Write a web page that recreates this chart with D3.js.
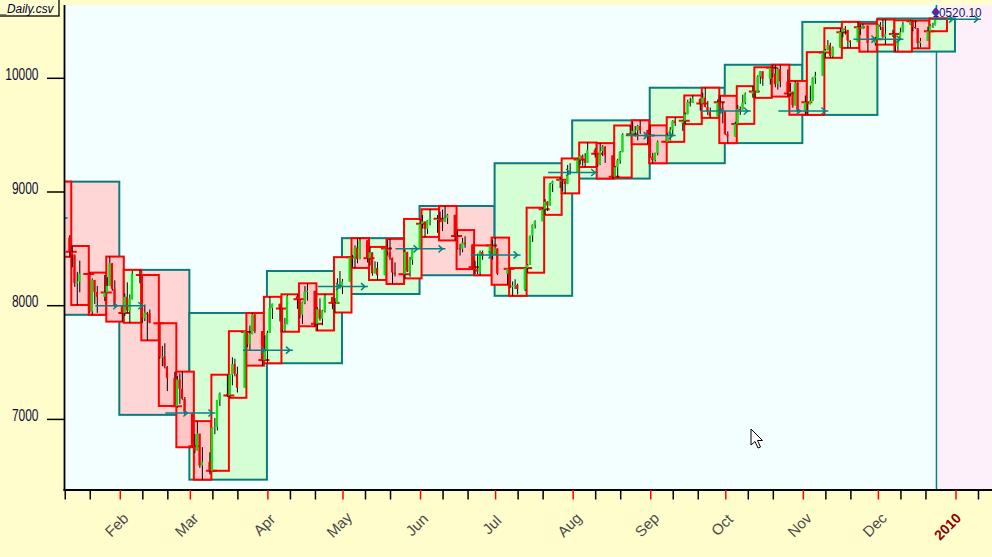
<!DOCTYPE html>
<html><head><meta charset="utf-8">
<script src="https://cdn.jsdelivr.net/npm/d3@7"></script>
<style>html,body{margin:0;padding:0;background:#fffdcc;overflow:hidden}</style>
</head><body><script>
// DJIA daily bars, 2009
const dates = [
"2009-01-02","2009-01-05","2009-01-06","2009-01-07","2009-01-08","2009-01-09","2009-01-12","2009-01-13","2009-01-14","2009-01-15","2009-01-16","2009-01-20","2009-01-21","2009-01-22","2009-01-23","2009-01-26","2009-01-27","2009-01-28","2009-01-29","2009-01-30",
"2009-02-02","2009-02-03","2009-02-04","2009-02-05","2009-02-06","2009-02-09","2009-02-10","2009-02-11","2009-02-12","2009-02-13","2009-02-17","2009-02-18","2009-02-19","2009-02-20","2009-02-23","2009-02-24","2009-02-25","2009-02-26","2009-02-27",
"2009-03-02","2009-03-03","2009-03-04","2009-03-05","2009-03-06","2009-03-09","2009-03-10","2009-03-11","2009-03-12","2009-03-13","2009-03-16","2009-03-17","2009-03-18","2009-03-19","2009-03-20","2009-03-23","2009-03-24","2009-03-25","2009-03-26","2009-03-27","2009-03-30","2009-03-31",
"2009-04-01","2009-04-02","2009-04-03","2009-04-06","2009-04-07","2009-04-08","2009-04-09","2009-04-13","2009-04-14","2009-04-15","2009-04-16","2009-04-17","2009-04-20","2009-04-21","2009-04-22","2009-04-23","2009-04-24","2009-04-27","2009-04-28","2009-04-29","2009-04-30",
"2009-05-01","2009-05-04","2009-05-05","2009-05-06","2009-05-07","2009-05-08","2009-05-11","2009-05-12","2009-05-13","2009-05-14","2009-05-15","2009-05-18","2009-05-19","2009-05-20","2009-05-21","2009-05-22","2009-05-26","2009-05-27","2009-05-28","2009-05-29",
"2009-06-01","2009-06-02","2009-06-03","2009-06-04","2009-06-05","2009-06-08","2009-06-09","2009-06-10","2009-06-11","2009-06-12","2009-06-15","2009-06-16","2009-06-17","2009-06-18","2009-06-19","2009-06-22","2009-06-23","2009-06-24","2009-06-25","2009-06-26","2009-06-29","2009-06-30",
"2009-07-01","2009-07-02","2009-07-06","2009-07-07","2009-07-08","2009-07-09","2009-07-10","2009-07-13","2009-07-14","2009-07-15","2009-07-16","2009-07-17","2009-07-20","2009-07-21","2009-07-22","2009-07-23","2009-07-24","2009-07-27","2009-07-28","2009-07-29","2009-07-30","2009-07-31",
"2009-08-03","2009-08-04","2009-08-05","2009-08-06","2009-08-07","2009-08-10","2009-08-11","2009-08-12","2009-08-13","2009-08-14","2009-08-17","2009-08-18","2009-08-19","2009-08-20","2009-08-21","2009-08-24","2009-08-25","2009-08-26","2009-08-27","2009-08-28","2009-08-31",
"2009-09-01","2009-09-02","2009-09-03","2009-09-04","2009-09-08","2009-09-09","2009-09-10","2009-09-11","2009-09-14","2009-09-15","2009-09-16","2009-09-17","2009-09-18","2009-09-21","2009-09-22","2009-09-23","2009-09-24","2009-09-25","2009-09-28","2009-09-29","2009-09-30",
"2009-10-01","2009-10-02","2009-10-05","2009-10-06","2009-10-07","2009-10-08","2009-10-09","2009-10-12","2009-10-13","2009-10-14","2009-10-15","2009-10-16","2009-10-19","2009-10-20","2009-10-21","2009-10-22","2009-10-23","2009-10-26","2009-10-27","2009-10-28","2009-10-29","2009-10-30",
"2009-11-02","2009-11-03","2009-11-04","2009-11-05","2009-11-06","2009-11-09","2009-11-10","2009-11-11","2009-11-12","2009-11-13","2009-11-16","2009-11-17","2009-11-18","2009-11-19","2009-11-20","2009-11-23","2009-11-24","2009-11-25","2009-11-27","2009-11-30",
"2009-12-01","2009-12-02","2009-12-03","2009-12-04","2009-12-07","2009-12-08","2009-12-09","2009-12-10","2009-12-11","2009-12-14","2009-12-15","2009-12-16","2009-12-17","2009-12-18","2009-12-21","2009-12-22","2009-12-23","2009-12-24"];
const opens = [
8772,9027,8954,9015,8769,8738,8599,8474,8448,8199,8212,8279,7949,8226,8120,8078,8116,8175,8373,8149,
8000,7936,8078,7954,8056,8281,8269,7887,7935,7932,7845,7555,7555,7461,7365,7115,7350,7269,7180,
7056,6764,6726,6874,6595,6625,6548,6923,6932,7170,7224,7210,7393,7487,7400,7279,7769,7659,7750,7924,7776,7522,
7609,7761,7978,8016,7975,7789,7837,8083,8057,7920,8029,8125,8131,7841,7969,7886,7957,8076,8025,8017,8185,
8168,8212,8426,8410,8512,8409,8574,8418,8469,8284,8331,8268,8504,8474,8422,8292,8277,8473,8300,8403,
8500,8721,8740,8675,8750,8763,8764,8763,8739,8770,8799,8612,8504,8497,8555,8539,8339,8323,8299,8472,8438,8529,
8447,8504,8280,8324,8163,8178,8183,8146,8331,8359,8616,8711,8743,8848,8915,8881,9069,9093,9108,9096,9070,9154,
9171,9286,9320,9280,9256,9370,9337,9241,9361,9398,9321,9135,9217,9279,9350,9505,9509,9539,9543,9580,9544,
9496,9310,9280,9344,9441,9497,9547,9627,9605,9626,9683,9791,9783,9820,9778,9829,9748,9707,9665,9789,9742,
9712,9509,9487,9599,9731,9725,9786,9864,9885,9871,10015,10062,9995,10092,10041,9949,10081,9972,9867,9882,9762,9962,
9712,9789,9771,9802,10005,10023,10226,10246,10291,10197,10270,10406,10437,10426,10332,10318,10450,10433,10464,10309,
10344,10471,10452,10366,10388,10390,10285,10337,10405,10471,10501,10452,10441,10308,10328,10414,10464,10466];
const highs = [
9065,9088,9091,9016,8770,8755,8620,8525,8449,8298,8396,8291,8240,8227,8174,8270,8250,8432,8374,8223,
8004,8108,8205,8100,8307,8315,8270,8010,7945,7966,7846,7646,7670,7469,7418,7382,7405,7420,7197,
7057,6872,6985,6875,6756,6710,6926,7012,7171,7236,7393,7396,7546,7534,7464,7776,7776,7825,7936,7925,7777,7740,
7780,8078,8018,8018,7976,7893,8093,8100,8058,8035,8174,8197,8132,7985,8065,7963,8101,8077,8068,8241,8305,
8235,8427,8445,8530,8590,8594,8575,8517,8470,8390,8385,8504,8579,8588,8423,8381,8495,8474,8430,8509,
8763,8797,8741,8752,8848,8797,8827,8845,8877,8808,8800,8665,8545,8596,8611,8540,8396,8457,8485,8485,8530,8581,
8599,8504,8325,8328,8213,8232,8194,8331,8365,8616,8715,8751,8862,8937,8919,9080,9100,9128,9109,9097,9238,9253,
9295,9321,9330,9342,9435,9385,9338,9430,9412,9403,9322,9228,9292,9360,9517,9585,9620,9580,9590,9630,9545,
9586,9345,9345,9453,9516,9571,9633,9658,9634,9699,9812,9829,9849,9821,9874,9917,9800,9743,9815,9846,9791,
9712,9533,9618,9766,9752,9855,9875,9931,9885,10027,10064,10063,10097,10119,10119,10094,10115,10079,9959,9882,9977,9968,
9849,9789,9935,10009,10057,10230,10258,10336,10312,10280,10441,10438,10460,10426,10333,10496,10474,10480,10465,10364,
10481,10495,10517,10516,10427,10390,10342,10445,10498,10510,10508,10508,10441,10355,10454,10473,10488,10526];
const lows = [
8760,8892,8940,8719,8651,8574,8430,8337,8165,8006,8118,7939,7920,8015,7937,8040,8112,8174,8132,7988,
7860,7909,7937,7850,8055,8198,7847,7865,7695,7845,7534,7468,7448,7249,7118,7104,7137,7173,7040,
6755,6702,6726,6574,6470,6517,6548,6870,6903,7118,7199,7190,7300,7378,7236,7279,7635,7608,7749,7758,7473,7522,
7494,7761,7883,7862,7771,7776,7837,7972,7890,7840,8013,8044,7819,7782,7868,7828,7940,7970,7940,8017,8150,
8103,8212,8338,8332,8373,8409,8380,8353,8263,8284,8226,8268,8443,8401,8191,8257,8240,8296,8254,8360,
8500,8680,8605,8630,8707,8641,8735,8656,8737,8719,8574,8496,8441,8470,8510,8322,8278,8277,8268,8404,8425,8406,
8447,8269,8184,8154,8087,8147,8100,8129,8290,8359,8561,8679,8743,8799,8833,8880,8999,9035,9004,8988,9070,9154,
9171,9240,9230,9220,9256,9304,9221,9236,9316,9256,9118,9135,9127,9248,9350,9496,9508,9487,9454,9511,9420,
9302,9253,9267,9323,9441,9456,9502,9580,9538,9597,9683,9752,9783,9716,9778,9745,9676,9652,9665,9709,9603,
9503,9430,9487,9599,9678,9725,9772,9830,9828,9871,9951,9934,9945,10009,9921,9901,9921,9839,9840,9742,9762,9698,
9679,9678,9771,9802,9951,10023,10180,10246,10180,10181,10270,10361,10384,10267,10273,10318,10383,10433,10234,10287,
10344,10425,10353,10296,10364,10235,10243,10337,10405,10471,10412,10436,10263,10271,10328,10414,10443,10466];
const closes = [
9034.69,8952.89,9015.10,8769.70,8742.46,8599.18,8473.97,8448.56,8200.14,8212.49,8281.22,7949.09,8228.10,8122.80,8077.56,8116.03,8174.73,8375.45,8149.01,8000.86,
7936.83,8078.36,7956.66,8063.07,8280.59,8270.87,7888.88,7939.53,7932.76,7850.41,7552.60,7555.63,7465.95,7365.67,7114.78,7350.94,7270.89,7182.08,7062.93,
6763.29,6726.02,6875.84,6594.44,6626.94,6547.05,6926.49,6930.40,7170.06,7223.98,7216.97,7395.70,7486.58,7400.80,7278.38,7775.86,7660.21,7749.81,7924.56,7776.18,7522.02,7608.92,
7761.60,7978.08,8017.59,7975.85,7789.56,7837.11,8083.38,8057.81,7920.18,8029.62,8125.43,8131.33,7841.73,7969.56,7886.57,7957.06,8076.29,8025.00,8016.95,8185.73,8168.12,
8212.41,8426.74,8410.65,8512.28,8409.85,8574.65,8418.77,8469.11,8284.89,8331.32,8268.64,8504.08,8474.85,8422.04,8292.13,8277.32,8473.49,8300.02,8403.80,8500.33,
8721.44,8740.87,8675.24,8750.24,8763.13,8764.49,8763.06,8739.02,8770.92,8799.26,8612.13,8504.67,8497.18,8555.60,8539.73,8339.01,8322.91,8299.86,8472.40,8438.39,8529.38,8447.00,
8504.06,8280.74,8324.87,8163.60,8178.41,8183.17,8146.52,8331.68,8359.49,8616.21,8711.82,8743.94,8848.15,8915.94,8881.26,9069.29,9093.24,9108.51,9096.72,9070.72,9154.46,9171.61,
9286.56,9320.19,9280.97,9256.26,9370.07,9337.95,9241.45,9361.61,9398.19,9321.40,9135.34,9217.94,9279.16,9350.05,9505.96,9509.28,9539.29,9543.52,9580.63,9544.20,9496.28,
9310.60,9280.67,9344.61,9441.27,9497.34,9547.22,9627.48,9605.41,9626.80,9683.41,9791.71,9783.92,9820.20,9778.86,9829.87,9748.55,9707.44,9665.19,9789.36,9742.20,9712.28,
9509.28,9487.67,9599.75,9731.25,9725.58,9786.87,9864.94,9885.80,9871.06,10015.86,10062.94,9995.91,10092.19,10041.48,9949.36,10081.31,9972.18,9867.96,9882.17,9762.69,9962.58,9712.73,
9789.44,9771.91,9802.14,10005.96,10023.42,10226.94,10246.97,10291.26,10197.47,10270.47,10406.96,10437.42,10426.31,10332.44,10318.16,10450.95,10433.71,10464.40,10309.92,10344.84,
10471.58,10452.68,10366.15,10388.90,10390.11,10285.97,10337.05,10405.83,10471.50,10501.05,10452.00,10441.12,10308.26,10328.89,10414.14,10464.93,10466.44,10520.10];

const monthLabels = ["Feb","Mar","Apr","May","Jun","Jul","Aug","Sep","Oct","Nov","Dec","2010"];
const yTickValues = [7000, 8000, 9000, 10000];
const fileLabel = "_Daily.csv";

// ---------- layout ----------
const W = 992, H = 557;
const PL = 64.5, PT = 5, PB = 490;
const DAY = 864e5;
const x = d3.scaleUtc()
  .domain([new Date(Date.UTC(2009,0,1)), new Date(Date.UTC(2010,0,1))])
  .range([42.74, 42.74 + 365*2.502]);
const y = d3.scaleLinear().domain([7000, 10000]).range([419.4, 78.3]);

const bars = dates.map((d,i)=>({date:new Date(d+"T00:00:00Z"), o:opens[i], h:highs[i], l:lows[i], c:closes[i]}));
const agg = ([k,bs]) => ({start:new Date(k), o:bs[0].o, c:bs[bs.length-1].c,
  h:d3.max(bs,b=>b.h), l:d3.min(bs,b=>b.l)});
const weeks = d3.groups(bars, b => +d3.utcMonday.floor(new Date(+b.date - DAY))).map(agg);
const months = d3.groups(bars, b => +d3.utcMonth.floor(b.date)).map(agg);
const last = bars[bars.length-1];

const svg = d3.select("body").append("svg").attr("width",W).attr("height",H)
  .style("font-family","'Liberation Sans', Arial, sans-serif");
svg.append("rect").attr("width",W).attr("height",H).attr("fill","#fffdcc");
svg.append("defs").append("clipPath").attr("id","clip")
  .append("rect").attr("x",PL).attr("y",PT).attr("width",W-PL+10).attr("height",PB-PT);
svg.append("rect").attr("x",PL).attr("y",PT).attr("width",W-PL+10).attr("height",PB-PT).attr("fill","#f3ffff");

const g = svg.append("g").attr("clip-path","url(#clip)");
// area after the last bar
const xLast = x(last.date);
g.append("rect").attr("x",xLast).attr("y",PT).attr("width",W-xLast+10).attr("height",PB-PT).attr("fill","#fdf0fb");
g.append("line").attr("x1",xLast+0.5).attr("x2",xLast+0.5).attr("y1",PT).attr("y2",PB)
  .attr("stroke","#0a8080").attr("stroke-width",1.5);

// monthly boxes
g.selectAll("rect.m").data(months).join("rect").attr("class","m")
  .attr("x", d => x(d.start)-1)
  .attr("width", d => x(d3.utcMonth.offset(d.start,1)) - x(d.start))
  .attr("y", d => y(d.h)).attr("height", d => y(d.l)-y(d.h))
  .attr("fill", d => d.c >= d.o ? "#d5fed5" : "#ffd6d6")
  .attr("stroke","#0b7b7b").attr("stroke-width",2);

// weekly boxes
g.selectAll("rect.w").data(weeks).join("rect").attr("class","w")
  .attr("x", d => x(d.start)+1)
  .attr("width", d => x(d3.utcDay.offset(d.start,7)) - x(d.start))
  .attr("y", d => y(d.h)).attr("height", d => y(d.l)-y(d.h))
  .attr("fill", d => d.c >= d.o ? "#d3fdd3" : "#ffc6c6")
  .attr("stroke","#ff0000").attr("stroke-width",2);

// weekly open markers
g.selectAll("line.wo").data(weeks).join("line").attr("class","wo")
  .attr("x1", d => x(d.start)+1-5.5).attr("x2", d => x(d.start)+1+5.5)
  .attr("y1", d => y(d.o)).attr("y2", d => y(d.o))
  .attr("stroke","#ff0000").attr("stroke-width",2);

// candles
const cg = g.append("g");
cg.selectAll("line.wick").data(bars).join("line").attr("class","wick")
  .attr("x1", d => x(d.date)-0.5).attr("x2", d => x(d.date)-0.5)
  .attr("y1", d => y(d.h)).attr("y2", d => y(d.l))
  .attr("stroke","#000").attr("stroke-width",1);
cg.selectAll("rect.body").data(bars).join("rect").attr("class","body")
  .attr("x", d => x(d.date)-2).attr("width",2.2)
  .attr("y", d => y(Math.max(d.o,d.c)))
  .attr("height", d => Math.max(1.2, Math.abs(y(d.o)-y(d.c))))
  .attr("fill", d => d.c >= d.o ? "#10e010" : "#ff0000");

// monthly open arrows (+ next month at last close)
const arrows = months.map(m => ({X:x(m.start), v:m.o}));
arrows.push({X:x(d3.utcMonth.offset(months[months.length-1].start,1)), v:last.c});
const ag = g.append("g").attr("stroke","#0a8080").attr("stroke-width",1.5).attr("fill","none");
arrows.forEach(a => {
  const yy = y(a.v);
  ag.append("line").attr("x1",a.X-25).attr("x2",a.X+25).attr("y1",yy).attr("y2",yy);
  [a.X-3, a.X+22].forEach(t => ag.append("path").attr("d",`M${t-4},${yy-3.5}L${t},${yy}L${t-4},${yy+3.5}`));
});

// axes
svg.append("line").attr("x1",PL).attr("x2",PL).attr("y1",PT).attr("y2",PB+1).attr("stroke","#000").attr("stroke-width",1.8);
svg.append("line").attr("x1",PL-1).attr("x2",W).attr("y1",PB).attr("y2",PB).attr("stroke","#000").attr("stroke-width",1.8);

yTickValues.forEach(v => {
  svg.append("line").attr("x1",47).attr("x2",PL).attr("y1",y(v)).attr("y2",y(v)).attr("stroke","#000").attr("stroke-width",1.5);
  const s = String(v);
  svg.append("text").attr("x",38.5).attr("y",y(v)+1.7).attr("text-anchor","end")
    .attr("font-size",16).attr("fill","#0d0d3a")
    .attr("textLength", s.length*6.65).attr("lengthAdjust","spacingAndGlyphs").text(s);
});

// x ticks on days 1, 10, 20
const tickDates = [];
for (let m = 0; m <= 12; m++) [1,10,20].forEach(dd => tickDates.push(new Date(Date.UTC(2009, m, dd))));
tickDates.filter(d => x(d) >= PL && x(d) <= W).forEach(d => {
  svg.append("line").attr("x1",x(d)).attr("x2",x(d)).attr("y1",PB).attr("y2",PB+9.5)
    .attr("stroke", d.getUTCDate()===1 ? "#ff0000" : "#000").attr("stroke-width",1.5);
});
monthLabels.forEach((lab,i) => {
  const d = new Date(Date.UTC(2009, i+1, 1));
  const isYear = i === monthLabels.length-1;
  svg.append("text")
    .attr("transform", `translate(${x(d) + (isYear ? -5 : 0)},${isYear ? 530 : 528.5}) rotate(-45)`)
    .attr("text-anchor","middle")
    .attr("font-size", isYear ? 14 : 15)
    .attr("font-weight", isYear ? "bold" : "normal")
    .attr("fill", isYear ? "#8b0000" : "#4a4a4a").text(lab);
});

// file label
svg.append("rect").attr("x",-1).attr("y",-1).attr("width",60).attr("height",17)
  .attr("fill","#fffdd0").attr("stroke","#000").attr("stroke-width",1.3);
svg.append("text").attr("x",0.5).attr("y",13).attr("font-size",12).attr("font-style","italic")
  .attr("fill","#000030").attr("textLength",53).attr("lengthAdjust","spacingAndGlyphs").text(fileLabel);

// last price label
svg.append("text").attr("x",932.5).attr("y",16.5).attr("font-size",13).attr("fill","#15156a")
  .attr("textLength",49).attr("lengthAdjust","spacingAndGlyphs").text(last.c.toFixed(2));
svg.append("path").attr("d","M931.5,12.3L935.8,7.3L940,12.3L935.8,17.3Z").attr("fill","#1e3cd8");
svg.append("path").attr("d","M933.6,12.3L935.6,10L937.4,12.3L935.6,14.6Z").attr("fill","#c01010");

// mouse pointer
svg.append("path").attr("transform","translate(751,429)")
  .attr("d","M0,0L0,16L4,12.5L7,19L9.5,18L6.5,11.5L11.5,11.5Z")
  .attr("fill","#fff").attr("stroke","#000").attr("stroke-width",1);
</script></body></html>
